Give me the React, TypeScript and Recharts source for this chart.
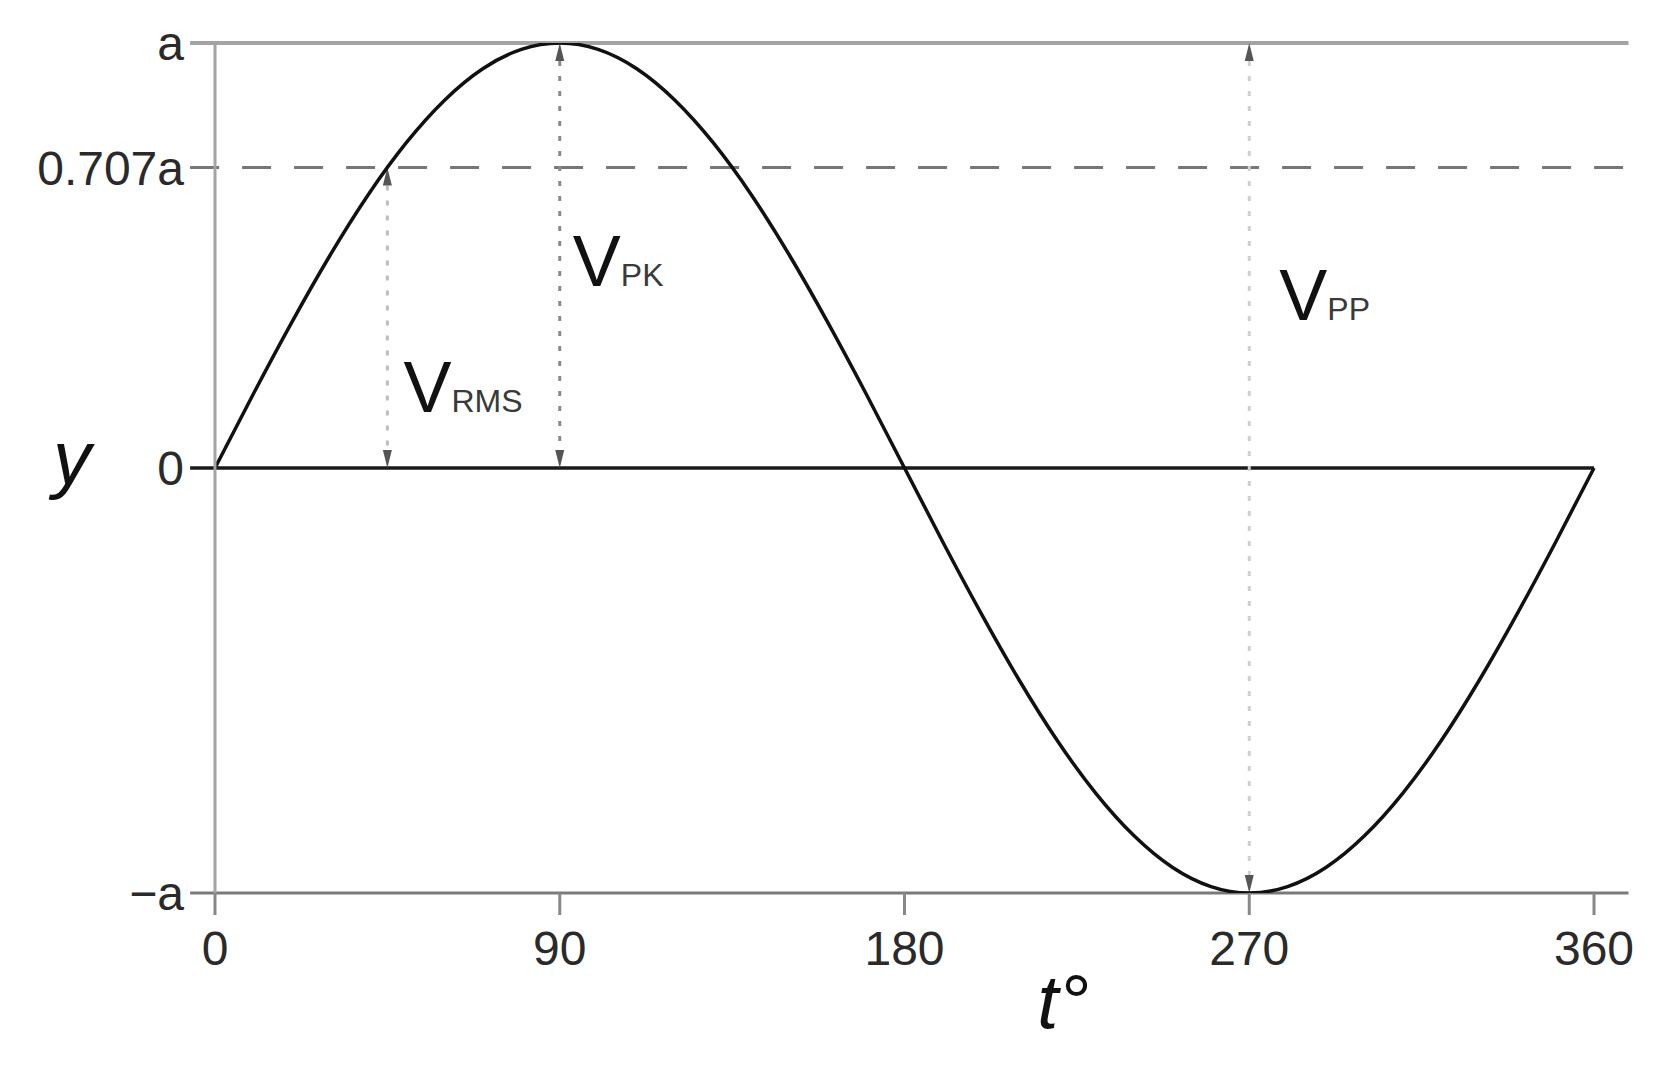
import React from 'react';
import { LineChart, Line, XAxis, YAxis, ReferenceLine, ReferenceDot } from 'recharts';

const degrees = [
  0, 10, 20, 30, 40, 50, 60, 70, 80, 90, 100, 110, 120, 130, 140, 150, 160, 170, 180,
  190, 200, 210, 220, 230, 240, 250, 260, 270, 280, 290, 300, 310, 320, 330, 340, 350, 360,
];
const amplitude = [
  0, 0.174, 0.342, 0.5, 0.643, 0.766, 0.866, 0.94, 0.985, 1, 0.985, 0.94, 0.866, 0.766, 0.643, 0.5, 0.342, 0.174, 0,
  -0.174, -0.342, -0.5, -0.643, -0.766, -0.866, -0.94, -0.985, -1, -0.985, -0.94, -0.866, -0.766, -0.643, -0.5, -0.342, -0.174, 0,
];

const xTicks = [0, 90, 180, 270, 360];
const yTicks = [-1, 0, 0.707, 1];
const yTickNames = ['−a', '0', '0.707a', 'a'];

// horizontal levels: peak, rms, zero, trough
const levels = [1, 0.707, 0, -1];
const levelEnds = [369, 369, 360, 369];

// measurement arrows
const spanNames = ['RMS', 'PK', 'PP'];
const spanAt = [45, 90, 270];
const spanFrom = [0, 0, -1];
const spanTo = [0.707, 1, 1];
const spanLabelY = [0.132, 0.428, 0.348];

const wave = degrees.map((t, i) => ({ t, v: amplitude[i] }));

const FONT = '"Liberation Sans", Arial, sans-serif';

const levelStyle = [
  { stroke: '#a3a3a3', strokeWidth: 4 },
  { stroke: '#777', strokeWidth: 3, strokeDasharray: '29 23' },
  { stroke: '#1a1a1a', strokeWidth: 3.5 },
  { stroke: '#7a7a7a', strokeWidth: 3 },
];
const spanColor = ['#bdbdbd', '#8a8a8a', '#cfcfcf'];
const labelDx = [16, 13, 30];

function ArrowLine(props: any) {
  const { x1, y1, y2, stroke } = props;
  const top = Math.min(y1, y2);
  const bot = Math.max(y1, y2);
  const ah = 18;
  const aw = 4.5;
  return (
    <g>
      <line x1={x1} y1={top + ah} x2={x1} y2={bot - ah} stroke={stroke} strokeWidth={3} strokeDasharray="5 10" />
      <polygon points={`${x1},${top} ${x1 - aw},${top + ah} ${x1 + aw},${top + ah}`} fill="#555" />
      <polygon points={`${x1},${bot} ${x1 - aw},${bot - ah} ${x1 + aw},${bot - ah}`} fill="#555" />
    </g>
  );
}

function spanLabel(i: number) {
  return (p: any) => (
    <text x={p.cx + labelDx[i]} y={p.cy} fontFamily={FONT} fill="#111">
      <tspan fontSize={72}>V</tspan>
      <tspan fontSize={32} fill="#3a3a3a">{spanNames[i]}</tspan>
    </text>
  );
}

function YName(p: any) {
  const vb = p.viewBox;
  return (
    <text x={vb.x + 45} y={vb.y + vb.height / 2 + 16} fontFamily={FONT} fontStyle="italic" fontSize={76} fill="#111">
      y
    </text>
  );
}

function TName(p: any) {
  const vb = p.viewBox;
  return (
    <text x={vb.x + vb.width * 0.6} y={vb.y + 135} textAnchor="middle" fontFamily={FONT} fontStyle="italic" fontSize={76} fill="#111">
      t°
    </text>
  );
}

export default function App() {
  return (
    <div style={{ width: 1650, height: 1050, background: '#fff', fontFamily: FONT }}>
      <LineChart width={1650} height={1050} data={wave} margin={{ top: 35, right: 29.5, bottom: 105, left: 0 }}>
        <XAxis
          type="number"
          dataKey="t"
          domain={[0, 369]}
          allowDataOverflow
          ticks={xTicks}
          axisLine={false}
          tickSize={22}
          tickMargin={16}
          tickLine={{ stroke: '#888', strokeWidth: 3 }}
          tick={{ fill: '#2a2a2a', fontSize: 48, fontFamily: FONT }}
          height={60}
          label={{ content: TName }}
        />
        <YAxis
          type="number"
          domain={[-1, 1]}
          allowDataOverflow
          ticks={yTicks}
          width={207}
          axisLine={{ stroke: '#a3a3a3', strokeWidth: 3 }}
          tickLine={false}
          tickSize={25}
          tickMargin={6}
          tick={{ fill: '#2a2a2a', fontSize: 48, fontFamily: FONT }}
          tickFormatter={(v: number) => yTickNames[yTicks.indexOf(v)]}
          label={{ content: YName }}
        />
        {levels.map((y, i) => (
          <ReferenceLine
            key={'lvl' + i}
            segment={[{ x: -6.5, y }, { x: levelEnds[i], y }]}
            ifOverflow="visible"
            {...levelStyle[i]}
          />
        ))}
        {spanAt.map((x, i) => (
          <ReferenceLine
            key={'span' + i}
            segment={[{ x, y: spanFrom[i] }, { x, y: spanTo[i] }]}
            ifOverflow="visible"
            stroke={spanColor[i]}
            shape={ArrowLine}
          />
        ))}
        {spanAt.map((x, i) => (
          <ReferenceDot key={'lbl' + i} x={x} y={spanLabelY[i]} r={0} ifOverflow="visible" shape={spanLabel(i)} />
        ))}
        <Line type="natural" dataKey="v" stroke="#111" strokeWidth={3.5} dot={false} isAnimationActive={false} />
      </LineChart>
    </div>
  );
}
